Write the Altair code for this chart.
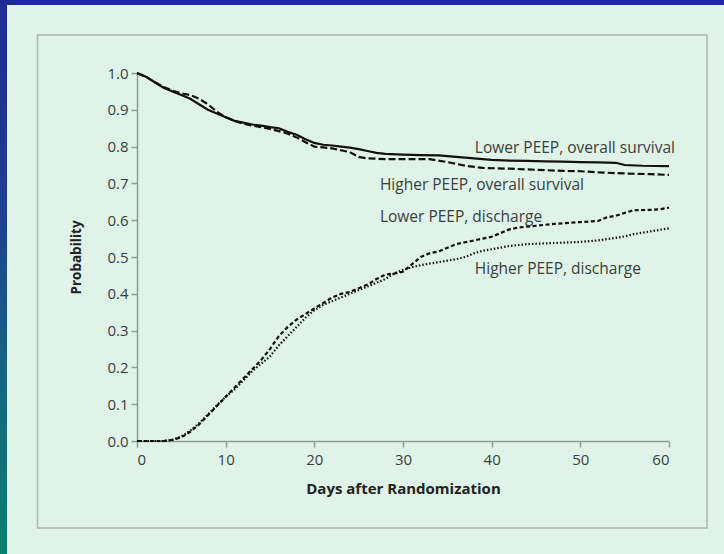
import altair as alt
import pandas as pd

# ---------------- data ----------------
low_surv_day = [0, 1, 2, 3, 4, 5, 6, 7, 8, 9, 10, 11, 12, 13, 14, 15, 16, 17, 18, 19, 20,
                21, 22, 23, 24, 25, 26, 27, 28, 30, 32, 34, 36, 38, 40, 42, 44, 46, 48, 50,
                52, 54, 55, 57, 60]
low_surv = [1.0, 0.99, 0.975, 0.96, 0.95, 0.94, 0.93, 0.915, 0.90, 0.89, 0.88, 0.87, 0.865,
            0.86, 0.857, 0.853, 0.85, 0.84, 0.832, 0.82, 0.81, 0.805, 0.803, 0.80, 0.797,
            0.793, 0.788, 0.783, 0.78, 0.778, 0.777, 0.776, 0.772, 0.768, 0.764, 0.762,
            0.761, 0.76, 0.759, 0.758, 0.757, 0.756, 0.75, 0.748, 0.747]

high_surv_day = [0, 1, 2, 3, 4, 5, 6, 7, 8, 9, 10, 11, 12, 13, 14, 15, 16, 17, 18, 19, 20,
                 21, 22, 23, 24, 25, 26, 28, 30, 33, 35, 37, 39, 42, 45, 48, 50, 52, 55, 58, 60]
high_surv = [1.0, 0.99, 0.975, 0.962, 0.952, 0.945, 0.94, 0.93, 0.915, 0.895, 0.88, 0.87,
             0.862, 0.857, 0.853, 0.848, 0.842, 0.835, 0.825, 0.812, 0.80, 0.798, 0.795,
             0.79, 0.785, 0.772, 0.768, 0.766, 0.766, 0.766, 0.758, 0.748, 0.742, 0.74,
             0.737, 0.734, 0.733, 0.73, 0.727, 0.725, 0.723]

low_dis_day = [0, 3, 4, 5, 6, 7, 8, 9, 10, 11, 12, 13, 14, 15, 16, 17, 18, 19, 20, 21, 22,
               23, 24, 25, 26, 27, 28, 29, 30, 31, 32, 33, 34, 35, 36, 37, 38, 39, 40, 41,
               42, 43, 45, 47, 50, 52, 53, 54, 55, 56, 58, 59, 60]
low_dis = [0.0, 0.0, 0.003, 0.01, 0.025, 0.045, 0.07, 0.095, 0.12, 0.145, 0.17, 0.195,
           0.22, 0.25, 0.285, 0.31, 0.33, 0.345, 0.36, 0.375, 0.39, 0.40, 0.405, 0.415,
           0.425, 0.44, 0.452, 0.455, 0.46, 0.48, 0.50, 0.51, 0.515, 0.525, 0.535, 0.54,
           0.545, 0.55, 0.555, 0.565, 0.575, 0.58, 0.585, 0.59, 0.595, 0.598, 0.608, 0.612,
           0.62, 0.627, 0.628, 0.63, 0.634]

high_dis_day = [0, 3, 4, 5, 6, 7, 8, 9, 10, 11, 12, 13, 14, 15, 16, 17, 18, 19, 20, 21, 22,
                23, 24, 25, 26, 27, 28, 29, 30, 31, 32, 33, 34, 35, 36, 37, 38, 39, 40, 42,
                44, 46, 48, 50, 52, 54, 55, 56, 58, 60]
high_dis = [0.0, 0.0, 0.003, 0.012, 0.028, 0.048, 0.072, 0.097, 0.12, 0.14, 0.165, 0.19,
            0.21, 0.23, 0.26, 0.285, 0.31, 0.335, 0.355, 0.37, 0.38, 0.39, 0.40, 0.41,
            0.42, 0.43, 0.44, 0.455, 0.465, 0.472, 0.478, 0.482, 0.486, 0.49, 0.494, 0.50,
            0.51, 0.517, 0.521, 0.53, 0.535, 0.537, 0.539, 0.541, 0.545, 0.552, 0.556,
            0.562, 0.57, 0.578]

label_text = ["Lower PEEP, overall survival", "Higher PEEP, overall survival",
              "Lower PEEP, discharge", "Higher PEEP, discharge"]
label_day = [38.1, 27.4, 27.4, 38.1]
label_p = [0.795, 0.697, 0.61, 0.467]

x_ticks = [0, 10, 20, 30, 40, 50, 60]
y_ticks = [0.0, 0.1, 0.2, 0.3, 0.4, 0.5, 0.6, 0.7, 0.8, 0.9, 1.0]

# ---------------- styling ----------------
BG = "#dff3e9"
BLUE = "#1f2a98"
AXIS = "#8d9e94"
FONT = "Open Sans"
TXT = "#3a403c"
W, H = 532, 368
PAD_L, PAD_T = 137, 73

x_scale = alt.Scale(domain=[0, 60], nice=False)
y_scale = alt.Scale(domain=[0, 1], nice=False)

x_axis = alt.Axis(values=x_ticks, title="Days after Randomization", grid=False,
                  domainColor=AXIS, domainWidth=1.5, tickColor=AXIS, tickWidth=1.5,
                  tickSize=6, labelColor=TXT, labelFont=FONT, labelFontSize=15,
                  labelPadding=5, labelOverlap=False, titleFont=FONT, titleFontSize=15,
                  titleFontWeight="bold", titleColor="#222222", titlePadding=14)
y_axis = alt.Axis(values=y_ticks, format=".1f", title="Probability", grid=False,
                  domainColor=AXIS, domainWidth=1.5, tickColor=AXIS, tickWidth=1.5,
                  tickSize=6, labelColor=TXT, labelFont=FONT, labelFontSize=15,
                  labelPadding=3, labelOverlap=False, titleFont=FONT, titleFontSize=13.5,
                  titleFontWeight="bold", titleColor="#222222", titlePadding=23)


def curve(days, vals, dash):
    df = pd.DataFrame({"day": days, "p": vals})
    kw = dict(color="#111111", strokeWidth=2.2)
    if dash:
        kw["strokeDash"] = dash
    return alt.Chart(df).mark_line(**kw).encode(
        x=alt.X("day:Q", scale=x_scale, axis=x_axis),
        y=alt.Y("p:Q", scale=y_scale, axis=y_axis),
    )


one = pd.DataFrame({"k": [0]})

top_strip = alt.Chart(one).mark_rect(color=BLUE).encode(
    x=alt.value(-PAD_L), x2=alt.value(724 - PAD_L),
    y=alt.value(-PAD_T), y2=alt.value(-PAD_T + 5))

left_strip = alt.Chart(one).mark_rect(
    fill=alt.Gradient(gradient="linear",
                      stops=[alt.GradientStop(color=BLUE, offset=0),
                             alt.GradientStop(color="#1f3c93", offset=0.35),
                             alt.GradientStop(color="#166283", offset=0.65),
                             alt.GradientStop(color="#0a8070", offset=1)],
                      x1=0, x2=0, y1=0, y2=1)).encode(
    x=alt.value(-PAD_L), x2=alt.value(-PAD_L + 7),
    y=alt.value(-PAD_T), y2=alt.value(554 - PAD_T))

frame = alt.Chart(one).mark_rect(filled=False, stroke="#a7b8ae", strokeWidth=1.5).encode(
    x=alt.value(37.5 - PAD_L), x2=alt.value(707 - PAD_L),
    y=alt.value(35 - PAD_T), y2=alt.value(528 - PAD_T))

labels = alt.Chart(pd.DataFrame({"t": label_text, "day": label_day, "p": label_p})).mark_text(
    align="left", baseline="middle", font=FONT, fontSize=15.5, color=TXT).encode(
    x=alt.X("day:Q", scale=x_scale, axis=x_axis),
    y=alt.Y("p:Q", scale=y_scale, axis=y_axis), text="t:N")

chart = alt.layer(
    top_strip, left_strip, frame,
    curve(low_surv_day, low_surv, None),
    curve(high_surv_day, high_surv, [7, 3]),
    curve(low_dis_day, low_dis, [4, 2.5]),
    curve(high_dis_day, high_dis, [1.5, 2]),
    labels,
).properties(
    width=W, height=H, background=BG,
    padding={"left": PAD_L, "top": PAD_T, "right": 724 - PAD_L - W, "bottom": 554 - PAD_T - H},
    autosize=alt.AutoSizeParams(type="none"),
).configure_view(stroke=None)

chart.save("out.html", embed_options={"renderer": "svg", "actions": False})
